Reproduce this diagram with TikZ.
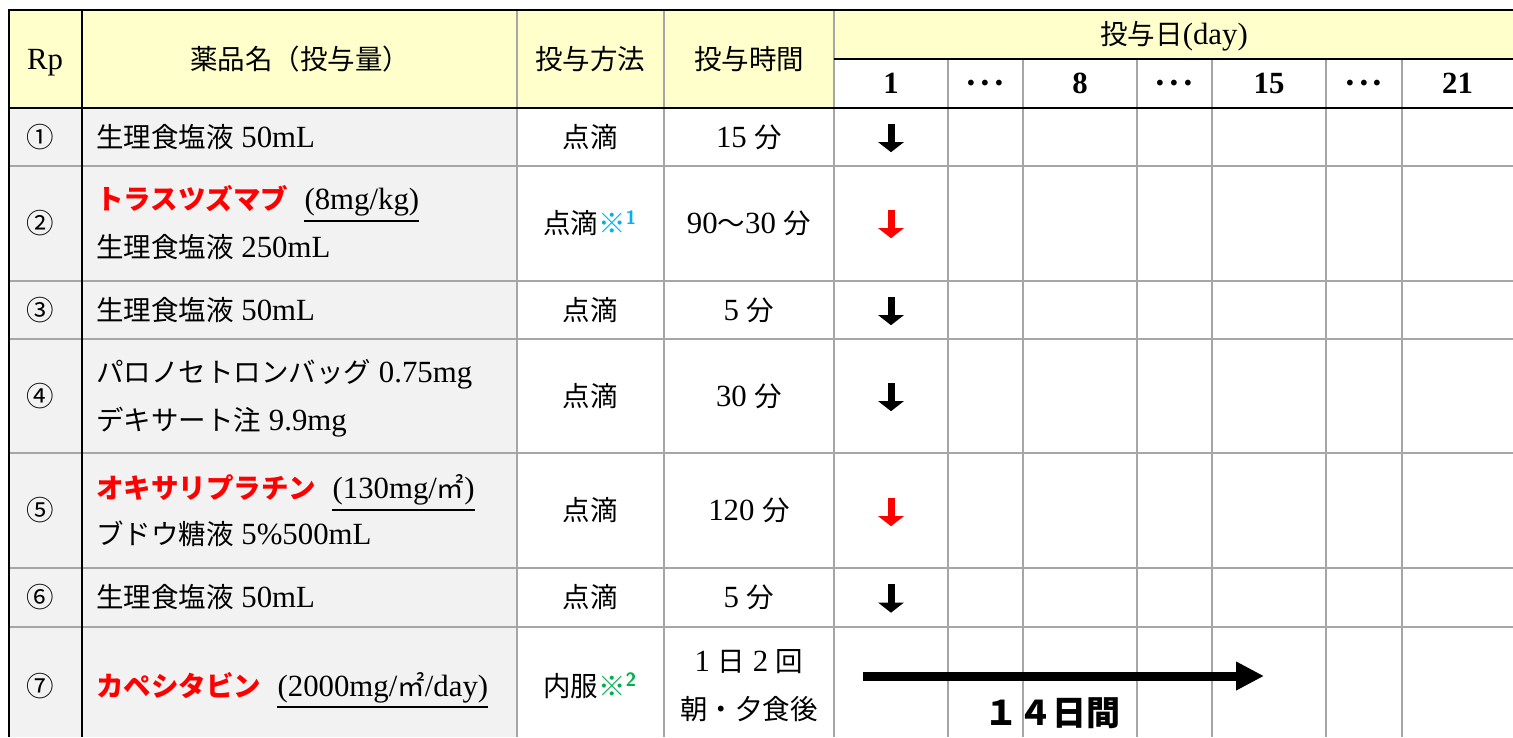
\documentclass[tikz,border=0pt]{standalone}
\usepackage{fontspec}
\setmainfont{Liberation Serif}[Scale=1.12]
\newfontfamily\jp{Noto Sans CJK JP}
\usetikzlibrary{positioning,arrows.meta}
\definecolor{headyellow}{RGB}{255,255,204}
\definecolor{cellgray}{RGB}{242,242,242}
\definecolor{gridgray}{RGB}{166,166,166}
\definecolor{markblue}{RGB}{0,176,240}
\definecolor{markgreen}{RGB}{0,176,80}
\tikzset{
  txt/.style={inner sep=0pt, text height=20pt, text depth=0pt},
  drug/.style={txt, anchor=west},
  dose/.style={inner sep=0pt, text depth=11pt},
  uline/.style={line width=1.8pt},
  grid/.style={draw=gridgray, line width=1.5pt},
  frame/.style={draw=black, line width=2.5pt},
  shotcell/.style={inner sep=0pt, minimum width=0pt, minimum height=28pt},
  shot/.style={line width=7pt, -{Triangle[width=25pt,length=10pt]}},
}
\begin{document}
\begin{tikzpicture}[x=1pt, y=-1pt, font=\fontsize{27.5}{30}\selectfont]
	\useasboundingbox (0,0) rectangle (1513,737);
	% Fills
	\fill[headyellow] (9,10) rectangle (1513,108);
	\fill[white] (834,59) rectangle (1513,108);
	\fill[cellgray] (9,108) rectangle (517,737);
	% Grid
	\draw[grid] (517,10) -- (517,737) (664,10) -- (664,737) (834,10) -- (834,737);
	\draw[grid] (948,59) -- (948,737) (1023,59) -- (1023,737) (1137,59) -- (1137,737)
		(1212,59) -- (1212,737) (1326,59) -- (1326,737) (1402,59) -- (1402,737);
	\draw[grid] (9,166) -- (1513,166) (9,281) -- (1513,281) (9,339) -- (1513,339)
		(9,453) -- (1513,453) (9,568) -- (1513,568) (9,627) -- (1513,627);
	\draw[frame] (9,737) -- (9,10) -- (1513,10);
	\draw[frame] (82,10) -- (82,737);
	\draw[frame] (9,108) -- (1513,108);
	\draw[frame] (834,59) -- (1513,59);
	% Header
	\node[txt] (rp) at (45,59) {Rp};
	\node[txt] (hname) at (300,59) {\jp 薬品名（投与量）};
	\node[txt] (hmethod) at (590,59) {\jp 投与方法};
	\node[txt] (htime) at (749,59) {\jp 投与時間};
	\node[txt] (hday) at (1174,34) {{\jp 投与日}(day)};
	\node[txt] (day1) at (891,83) {\bfseries 1};
	\node[txt] (dotsA) at (985.5,83) {\jp\bfseries ･･･};
	\node[txt] (day8) at (1080,83) {\bfseries 8};
	\node[txt] (dotsB) at (1174.5,83) {\jp\bfseries ･･･};
	\node[txt] (day15) at (1269,83) {\bfseries 15};
	\node[txt] (dotsC) at (1364,83) {\jp\bfseries ･･･};
	\node[txt] (day21) at (1457.5,83) {\bfseries 21};
	% Rp 1
	\node[txt] (no1) at (40,137) {\jp ①};
	\node[drug] (drug1) at (96,137) {{\jp 生理食塩液} 50mL};
	\node[txt] (how1) at (590,137) {\jp 点滴};
	\node[txt] (len1) at (749,137) {15 {\jp 分}};
	\node[shotcell] (shot1) at (891,138) {};
	\draw[shot] (shot1.north) -- (shot1.south);
	% Rp 2
	\node[txt] (no2) at (40,223.5) {\jp ②};
	\node[drug, text=red] (drug2) at (96,199.5) {\jp\bfseries トラスツズマブ};
	\node[dose, base right=16pt of drug2] (dose2) {(8mg/kg)};
	\draw[uline] (dose2.south west) -- (dose2.south east);
	\node[drug] (drug2b) at (96,247.5) {{\jp 生理食塩液} 250mL};
	\node[txt] (how2) at (590,223.5) {{\jp 点滴}\textcolor{markblue}{{\jp\bfseries ※}{\sffamily\bfseries\textsuperscript{1}}}};
	\node[txt] (len2) at (749,223.5) {90{\jp ～}30 {\jp 分}};
	\node[shotcell] (shot2) at (891,224) {};
	\draw[shot, red] (shot2.north) -- (shot2.south);
	% Rp 3
	\node[txt] (no3) at (40,310) {\jp ③};
	\node[drug] (drug3) at (96,310) {{\jp 生理食塩液} 50mL};
	\node[txt] (how3) at (590,310) {\jp 点滴};
	\node[txt] (len3) at (749,310) {5 {\jp 分}};
	\node[shotcell] (shot3) at (891,311) {};
	\draw[shot] (shot3.north) -- (shot3.south);
	% Rp 4
	\node[txt] (no4) at (40,396) {\jp ④};
	\node[drug] (drug4) at (96,372) {{\jp パロノセトロンバッグ} 0.75mg};
	\node[drug] (drug4b) at (96,420) {{\jp デキサート注} 9.9mg};
	\node[txt] (how4) at (590,396) {\jp 点滴};
	\node[txt] (len4) at (749,396) {30 {\jp 分}};
	\node[shotcell] (shot4) at (891,397) {};
	\draw[shot] (shot4.north) -- (shot4.south);
	% Rp 5
	\node[txt] (no5) at (40,510.5) {\jp ⑤};
	\node[drug, text=red] (drug5) at (96,488.5) {\jp\bfseries オキサリプラチン};
	\node[dose, base right=16pt of drug5] (dose5) {(130mg/{\jp ㎡})};
	\draw[uline] (dose5.south west) -- (dose5.south east);
	\node[drug] (drug5b) at (96,534.5) {{\jp ブドウ糖液} 5\%500mL};
	\node[txt] (how5) at (590,510.5) {\jp 点滴};
	\node[txt] (len5) at (749,510.5) {120 {\jp 分}};
	\node[shotcell] (shot5) at (891,512) {};
	\draw[shot, red] (shot5.north) -- (shot5.south);
	% Rp 6
	\node[txt] (no6) at (40,597.5) {\jp ⑥};
	\node[drug] (drug6) at (96,597.5) {{\jp 生理食塩液} 50mL};
	\node[txt] (how6) at (590,597.5) {\jp 点滴};
	\node[txt] (len6) at (749,597.5) {5 {\jp 分}};
	\node[shotcell] (shot6) at (891,598.5) {};
	\draw[shot] (shot6.north) -- (shot6.south);
	% Rp 7
	\node[txt] (no7) at (40,686) {\jp ⑦};
	\node[drug, text=red] (drug7) at (96,686) {\jp\bfseries カペシタビン};
	\node[dose, base right=16pt of drug7] (dose7) {(2000mg/{\jp ㎡}/day)};
	\draw[uline] (dose7.south west) -- (dose7.south east);
	\node[txt] (how7) at (590,686) {{\jp 内服}\textcolor{markgreen}{{\jp\bfseries ※}{\sffamily\bfseries\textsuperscript{2}}}};
	\node[txt] (len7) at (749,661) {1 {\jp 日} 2 {\jp 回}};
	\node[txt] (len7b) at (749,709) {\jp 朝・夕食後};
	% 14 days
	\coordinate (run start) at (863,676);
	\coordinate (run end) at (1264,676);
	\draw[line width=9pt, -{Triangle[width=27pt,length=28pt]}] (run start) -- (run end);
	\node[txt, text height=30pt] (run) at (1052,710) {\jp\bfseries\fontsize{34}{36}\selectfont １４日間};
\end{tikzpicture}
\end{document}
